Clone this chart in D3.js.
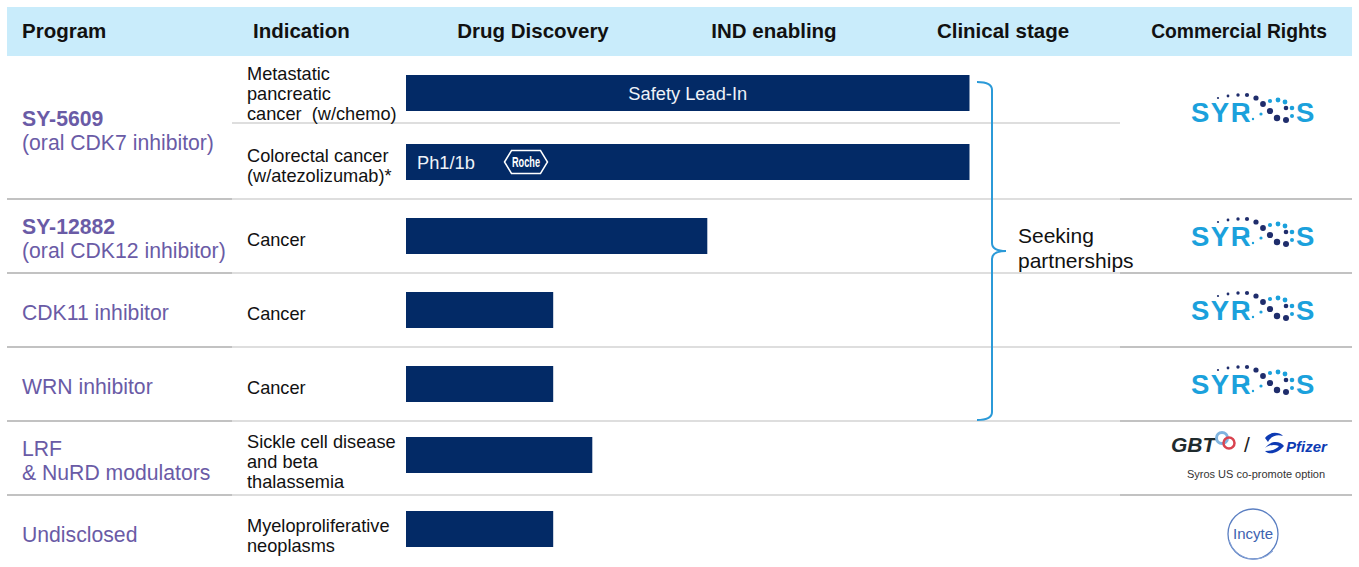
<!DOCTYPE html>
<html>
<head>
<meta charset="utf-8">
<script src="https://cdn.jsdelivr.net/npm/d3@7"></script>
<style>
  html, body { margin: 0; padding: 0; background: #fff; }
  svg { display: block; font-family: "Liberation Sans", Arial, sans-serif; }
</style>
</head>
<body>
<svg id="chart" width="1359" height="567"></svg>
<script>
// ---------------- DATA ----------------
const headers = ["Program", "Indication"];
const stages = ["Drug Discovery", "IND enabling", "Clinical stage"];
const rightsHeader = "Commercial Rights";

const programLabels = [
  ["SY-5609", "(oral CDK7 inhibitor)"],
  ["SY-12882", "(oral CDK12 inhibitor)"],
  ["CDK11 inhibitor"],
  ["WRN inhibitor"],
  ["LRF", "& NuRD modulators"],
  ["Undisclosed"]
];
const programBoldFirst = [true, true, false, false, false, false];
const programRowSpan = [2, 1, 1, 1, 1, 1];
const programRights = ["syros", "syros", "syros", "syros", "gbt", "incyte"];

const indications = [
  ["Metastatic", "pancreatic", "cancer  (w/chemo)"],
  ["Colorectal cancer", "(w/atezolizumab)*"],
  ["Cancer"],
  ["Cancer"],
  ["Cancer"],
  ["Sickle cell disease", "and beta", "thalassemia"],
  ["Myeloproliferative", "neoplasms"]
];
// progress in stage units (0 = start of Drug Discovery, 1 = IND enabling, 2 = Clinical stage)
const progress = [2.45, 2.45, 1.31, 0.64, 0.64, 0.81, 0.64];
const barLabels = ["Safety Lead-In", "Ph1/1b", "", "", "", "", ""];
const partnerLabel = ["Seeking", "partnerships"];
const partnerRows = [0, 4]; // indication rows covered by bracket
const gbtNote = "Syros US co-promote option";

// ---------------- LAYOUT ----------------
const svg = d3.select("#chart");
const headerTop = 7, headerBottom = 56;

const x = d3.scaleLinear().domain([0, 3]).range([406, 1096]);
const y = d3.scaleLinear().domain([0, 7]).range([51, 569]); // row slots
const barH = 36;

const colors = {
  header: "#c9ecfb", bar: "#032a66", program: "#6a5ba6", text: "#111",
  lineDark: "#c2c2c2", lineLight: "#dedede", bracket: "#2b9ad8",
  syros: "#1ba1dc", syrosNavy: "#1f2d6c"
};

function rowTop(i) { return i === 0 ? headerBottom : y(i); }
function rowCenter(i) { return (rowTop(i) + y(i + 1)) / 2; }

// header band
svg.append("rect").attr("x", 7).attr("y", headerTop).attr("width", 1345)
  .attr("height", headerBottom - headerTop).attr("fill", colors.header);

const hdr = svg.append("g").attr("font-weight", "bold").attr("font-size", 20.5).attr("fill", colors.text);
const headerPos = [22, 253];
headers.forEach((h, i) => hdr.append("text").attr("x", headerPos[i]).attr("y", 38).text(h));
const stageCenters = [533, 774, 1003];
stages.forEach((s, i) => hdr.append("text").attr("x", stageCenters[i]).attr("y", 38)
  .attr("text-anchor", "middle").text(s));
hdr.append("text").attr("x", 1239).attr("y", 38).attr("text-anchor", "middle")
  .attr("font-size", 19.3).text(rightsHeader);

// separator lines
const lines = svg.append("g").attr("stroke-width", 2);
for (let k = 2; k <= 6; k++) {
  const yy = y(k);
  lines.append("line").attr("x1", 7).attr("x2", 232).attr("y1", yy).attr("y2", yy).attr("stroke", colors.lineDark);
  lines.append("line").attr("x1", 232).attr("x2", 1120).attr("y1", yy).attr("y2", yy).attr("stroke", colors.lineLight);
  lines.append("line").attr("x1", 1120).attr("x2", 1352).attr("y1", yy).attr("y2", yy).attr("stroke", colors.lineDark);
}
// sub-row line inside first program
lines.append("line").attr("x1", 232).attr("x2", 1120).attr("y1", y(1) - 2).attr("y2", y(1) - 2).attr("stroke", colors.lineLight);

// program labels
let start = 0;
const progStarts = [];
programLabels.forEach((lbls, p) => {
  const span = programRowSpan[p];
  progStarts.push(start);
  const top = rowTop(start), bottom = y(start + span);
  const gc = (top + bottom) / 2;
  const n = lbls.length;
  lbls.forEach((t, k) => {
    svg.append("text").attr("x", 22)
      .attr("y", gc + 10.4 + (k - (n - 1) / 2) * 24)
      .attr("font-size", 21.2)
      .attr("font-weight", programBoldFirst[p] && k === 0 ? "bold" : "normal")
      .attr("fill", colors.program).text(t);
  });
  start += span;
});

// indications
indications.forEach((lbls, i) => {
  const c = rowCenter(i);
  const n = lbls.length;
  lbls.forEach((t, k) => {
    svg.append("text").attr("x", 247)
      .attr("y", c + 9.5 + (k - (n - 1) / 2) * 20)
      .attr("font-size", 18.2).attr("fill", colors.text)
      .style("white-space", "pre").text(t);
  });
});

// bars
const barCenters = progress.map((_, i) => i === 0 ? rowCenter(0) + 2.5 : rowCenter(i) - (i >= 5 ? 3 : 0));
svg.append("g").selectAll("rect").data(progress).join("rect")
  .attr("x", x(0)).attr("y", (d, i) => barCenters[i] - barH / 2)
  .attr("width", d => x(d) - x(0)).attr("height", barH)
  .attr("fill", colors.bar);

// bar labels
barLabels.forEach((t, i) => {
  if (!t) return;
  const centered = i === 0;
  svg.append("text")
    .attr("x", centered ? (x(0) + x(progress[i])) / 2 : x(0) + 11)
    .attr("y", barCenters[i] + 6.5)
    .attr("text-anchor", centered ? "middle" : "start")
    .attr("font-size", 18.3).attr("fill", "#eef2f8").text(t);
});

// Roche logo in second bar
(function roche() {
  const cx = x(0) + 120, cy = barCenters[1];
  const g = svg.append("g");
  const pts = [[-21.5, 0], [-14.5, -11.5], [14.5, -11.5], [21.5, 0], [14.5, 11.5], [-14.5, 11.5]];
  g.append("polygon").attr("points", pts.map(p => [cx + p[0], cy + p[1]].join(",")).join(" "))
    .attr("fill", "none").attr("stroke", "#fff").attr("stroke-width", 1.5);
  g.append("text").attr("x", cx).attr("y", cy + 5).attr("text-anchor", "middle")
    .attr("font-size", 15).attr("font-weight", "bold").attr("fill", "#fff")
    .attr("textLength", 28).attr("lengthAdjust", "spacingAndGlyphs").text("Roche");
})();

// bracket
(function bracket() {
  const top = barCenters[partnerRows[0]] - barH / 2 + 7;
  const bottom = y(partnerRows[1] + 1) - 1;
  const mid = (top + bottom) / 2;
  const bx = 992, lx = 977, tip = 1006;
  const path = `M${lx},${top} Q${bx},${top} ${bx},${top + 8} L${bx},${mid - 8} Q${bx},${mid} ${tip},${mid}
    Q${bx},${mid} ${bx},${mid + 8} L${bx},${bottom - 8} Q${bx},${bottom} ${lx},${bottom}`;
  svg.append("path").attr("d", path).attr("fill", "none")
    .attr("stroke", colors.bracket).attr("stroke-width", 2);
  partnerLabel.forEach((t, k) => svg.append("text").attr("x", 1018).attr("y", mid - 8 + k * 25)
    .attr("font-size", 21).attr("fill", colors.text).text(t));
})();

// logos
function syrosLogo(cx, cy) {
  const g = svg.append("g");
  const ox = cx - 62, base = cy + 10;
  g.append("text").attr("x", ox).attr("y", base).attr("font-size", 27.5).attr("font-weight", "bold")
    .attr("letter-spacing", 1.5).attr("fill", colors.syros).text("SYR");
  g.append("text").attr("x", ox + 105).attr("y", base).attr("font-size", 27.5).attr("font-weight", "bold")
    .attr("fill", colors.syros).text("S");
  const navy = [[27, -24, 1.1], [37, -26, 1.4], [47, -27, 1.7], [56, -27, 2.1], [65, -24, 2.6],
                [72, -18, 2.9], [79, -11, 3.1], [86, -4, 3.2], [95, -2, 3.0], [95, -14, 2.3]];
  const light = [[57, -10, 1.5], [62, -3, 1.2], [79, -21, 2.1], [87, -22, 2.4], [94, -20, 2.4],
                 [101, -14, 2.3], [101, -6, 2.0], [70, -8, 1.6]];
  navy.forEach(d => g.append("circle").attr("cx", ox + d[0]).attr("cy", base + d[1]).attr("r", d[2]).attr("fill", colors.syrosNavy));
  light.forEach(d => g.append("circle").attr("cx", ox + d[0]).attr("cy", base + d[1]).attr("r", d[2]).attr("fill", colors.syros));
}

function gbtLogo(cx, cy) {
  const g = svg.append("g");
  const base = cy - 6;
  g.append("text").attr("x", cx - 82).attr("y", base).attr("font-size", 21).attr("font-weight", "bold")
    .attr("font-style", "italic").attr("fill", "#1f2b2e").text("GBT");
  g.append("circle").attr("cx", cx - 31).attr("cy", base - 14).attr("r", 5.5).attr("fill", "none")
    .attr("stroke", "#7fb3df").attr("stroke-width", 3);
  g.append("circle").attr("cx", cx - 24).attr("cy", base - 9).attr("r", 5.5).attr("fill", "none")
    .attr("stroke", "#d9434f").attr("stroke-width", 2.5);
  g.append("text").attr("x", cx - 9).attr("y", base).attr("font-size", 21).attr("fill", "#222").text("/");
  // Pfizer swirl
  const px = cx + 12, py = base - 8;
  g.append("path").attr("d", `M${px},${py - 6} C${px + 5},${py - 13} ${px + 14},${py - 12} ${px + 18},${py - 8}
     C${px + 12},${py - 10} ${px + 6},${py - 8} ${px + 3},${py - 2} Z`).attr("fill", "#0d3ab3");
  g.append("path").attr("d", `M${px},${py + 4} C${px + 6},${py - 4} ${px + 15},${py - 3} ${px + 19},${py + 2}
     C${px + 12},${py + 10} ${px + 4},${py + 11} ${px},${py + 7} C${px + 7},${py + 7} ${px + 12},${py + 5} ${px + 14},${py + 2}
     C${px + 9},${py} ${px + 4},${py + 1} ${px},${py + 4} Z`).attr("fill", "#0d3ab3");
  g.append("text").attr("x", cx + 33).attr("y", base).attr("font-size", 15).attr("font-weight", "bold")
    .attr("font-style", "italic").attr("fill", "#0d3ab3").text("Pfizer");
  g.append("text").attr("x", cx + 3).attr("y", cy + 20).attr("text-anchor", "middle")
    .attr("font-size", 11).attr("fill", "#333").text(gbtNote);
}

function incyteLogo(cx, cy) {
  const g = svg.append("g");
  g.append("circle").attr("cx", cx).attr("cy", cy).attr("r", 25).attr("fill", "none")
    .attr("stroke", "#5b7fc2").attr("stroke-width", 1.3);
  g.append("path").attr("d", `M${cx - 24},${cy + 6} A26,26 0 0 0 ${cx + 20},${cy + 17}`)
    .attr("fill", "none").attr("stroke", "#8aa6d8").attr("stroke-width", 1);
  g.append("text").attr("x", cx).attr("y", cy + 5).attr("text-anchor", "middle")
    .attr("font-size", 15).attr("fill", "#3d62b0").text("Incyte");
}

programRights.forEach((r, p) => {
  const s = progStarts[p], span = programRowSpan[p];
  const gc = span > 1 ? y(s + 1) - 13 : (rowTop(s) + y(s + span)) / 2;
  const cx = 1253;
  if (r === "syros") syrosLogo(cx, gc);
  else if (r === "gbt") gbtLogo(cx, gc);
  else incyteLogo(cx, gc + 2);
});
</script>
</body>
</html>
